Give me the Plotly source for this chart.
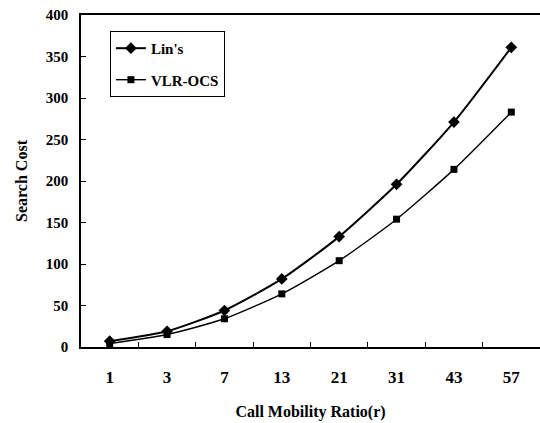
import plotly.graph_objects as go

ratios = ["1", "3", "7", "13", "21", "31", "43", "57"]
lins = [7, 19, 44, 82, 133, 196, 271, 361]
vlr_ocs = [4, 15, 34, 64, 104, 154, 214, 283]
y_ticks = [0, 50, 100, 150, 200, 250, 300, 350, 400]

FONT = "Liberation Serif"

fig = go.Figure()
fig.add_trace(go.Scatter(
    x=ratios, y=lins, name="Lin's", mode="lines+markers",
    line=dict(color="black", width=2, shape="spline", smoothing=0.6),
    marker=dict(symbol="diamond", size=9, color="black"),
    legendgroup="a",
))
fig.add_trace(go.Scatter(
    x=ratios, y=vlr_ocs, name="VLR-OCS", mode="lines+markers",
    line=dict(color="black", width=1.4, shape="spline", smoothing=0.6),
    marker=dict(symbol="square", size=7, color="black"),
    legendgroup="b",
))

fig.update_layout(
    width=540, height=423,
    margin=dict(l=81, r=0, t=15, b=76),
    paper_bgcolor="white", plot_bgcolor="white",
    font=dict(family=FONT, color="black", size=15),
    showlegend=True,
    legend=dict(
        x=0.063, y=0.952, xanchor="left", yanchor="top",
        bordercolor="black", borderwidth=1, bgcolor="white",
        font=dict(family=FONT, size=15, weight="bold"),
        tracegroupgap=9, itemwidth=30,
    ),
    xaxis=dict(
        type="category", range=[-0.5, 7.5], automargin=False,
        showline=True, linecolor="black", linewidth=1.5, mirror=True,
        ticks="inside", ticklen=5, tickcolor="black", tickson="boundaries",
        showgrid=False, zeroline=False,
        tickfont=dict(family=FONT, size=17, weight="bold"),
        ticklabelstandoff=14,
        title=dict(text="Call Mobility Ratio(r)", standoff=20,
                   font=dict(family=FONT, size=16, weight="bold")),
    ),
    yaxis=dict(
        range=[0, 400], tickvals=y_ticks, automargin=False,
        showline=True, linecolor="black", linewidth=1.5,
        ticks="inside", ticklen=5, tickcolor="black",
        showgrid=False, zeroline=False,
        tickfont=dict(family=FONT, size=15, weight="bold"),
        ticklabelstandoff=8,
        title=dict(text="Search Cost", standoff=14,
                   font=dict(family=FONT, size=16, weight="bold")),
    ),
)

fig.write_html(
    "out.html",
    config={"displayModeBar": False},
    post_script="document.body.style.margin='0';document.body.style.overflow='hidden';",
)
